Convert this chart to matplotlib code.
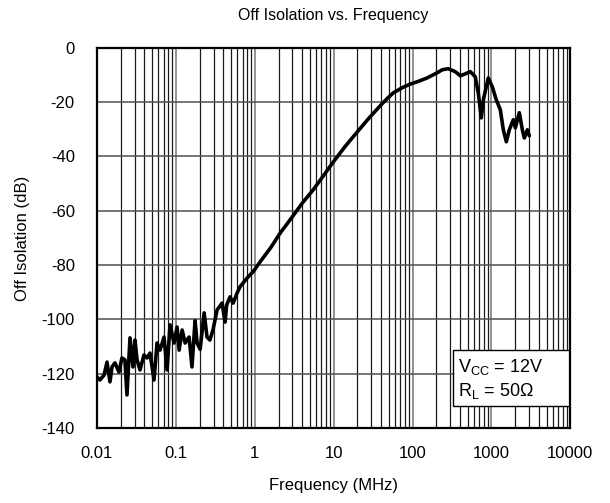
import numpy as np
import matplotlib
matplotlib.use("Agg")
import matplotlib.pyplot as plt
from matplotlib.patches import Rectangle
from matplotlib.ticker import LogLocator, FixedLocator, NullFormatter

plt.rcParams.update({
    "font.family": ["Liberation Sans", "DejaVu Sans"],
    "font.size": 12,
    "mathtext.fontset": "custom",
    "mathtext.rm": "Liberation Sans",
    "mathtext.it": "Liberation Sans:italic",
})

# frequency (MHz) and off isolation (dB)
freq_mhz = [0.0100, 0.0109, 0.0123, 0.0134, 0.0146, 0.0155, 0.0169, 0.0190, 0.0207, 0.0226,
            0.0240, 0.0262, 0.0286, 0.0303, 0.0322, 0.0351, 0.0394, 0.0431, 0.0470, 0.0528,
            0.0577, 0.0630, 0.0708, 0.0773, 0.0843, 0.0948, 0.1035, 0.110, 0.120, 0.131,
            0.147, 0.160, 0.175, 0.186, 0.203, 0.228, 0.248, 0.270, 0.295, 0.333,
            0.385, 0.42, 0.44, 0.486, 0.531, 0.597, 0.65, 0.71, 0.82, 0.95,
            1.17, 1.6, 2.1, 2.98, 4.0, 5.5, 7.5, 9.9, 14, 20,
            28, 39, 48, 57, 75, 93, 120, 153, 205, 238,
            284, 348, 403, 466, 540, 624, 681, 743, 788, 912,
            1025, 1152, 1295, 1414, 1543, 1683, 1892, 2008, 2256, 2463,
            2611, 2850, 3020]
isolation_db = [-121.2, -122.3, -120.5, -115.7, -123.0, -117.5, -116.0, -119.4, -114.2, -114.9,
                -127.8, -106.8, -117.5, -107.6, -114.9, -118.6, -113.1, -114.2, -112.4, -122.3,
                -108.7, -111.3, -106.5, -118.6, -102.0, -108.7, -102.8, -111.3, -103.9, -108.7,
                -106.5, -117.5, -100.5, -108.7, -111.0, -97.6, -106.5, -107.6, -103.9, -96.5,
                -94.0, -101.0, -94.7, -91.7, -94.0, -90.3, -88.0, -86.6, -84.4, -82.5,
                -78.8, -73.5, -68.2, -62.3, -57.2, -52.3, -46.9, -42.0, -36.3, -30.9,
                -25.9, -21.3, -18.6, -16.6, -14.6, -13.4, -12.3, -11.1, -9.2, -8.1,
                -7.7, -8.8, -10.3, -9.6, -8.8, -10.7, -16.6, -25.8, -19.2, -11.1,
                -14.4, -19.2, -22.8, -30.2, -34.6, -30.2, -26.5, -29.5, -23.9, -30.2,
                -33.2, -30.2, -32.4]

x_ticks = [0.01, 0.1, 1, 10, 100, 1000, 10000]
x_ticklabels = ["0.01", "0.1", "1", "10", "100", "1000", "10000"]
y_ticks = [0, -20, -40, -60, -80, -100, -120, -140]

fig = plt.figure(figsize=(6.10, 5.03), dpi=100)
ax = fig.add_axes([0.159, 0.149, 0.776, 0.756])

ax.plot(freq_mhz, isolation_db, color="black", lw=2.6, zorder=4,
        solid_joinstyle="round", solid_capstyle="round")

ax.set_xscale("log")
ax.set_xlim(0.01, 10000)
ax.set_ylim(-140, 0)
ax.set_xticks(x_ticks)
ax.set_xticklabels(x_ticklabels)
ax.xaxis.set_minor_locator(LogLocator(base=10, subs=np.arange(2, 10)))
ax.xaxis.set_minor_formatter(NullFormatter())
ax.yaxis.set_major_locator(FixedLocator(y_ticks))
ax.set_yticklabels([str(v) for v in y_ticks])
ax.tick_params(which="both", length=0)
ax.tick_params(axis="x", pad=13)
ax.tick_params(axis="y", pad=16)

ax.grid(True, which="major", axis="x", color="#8a8a8a", lw=1.3, zorder=1)
ax.grid(True, which="minor", axis="x", color="#1a1a1a", lw=0.9, zorder=1)
ax.grid(True, which="major", axis="y", color="#505050", lw=1.1, zorder=1)
ax.set_axisbelow(True)

for s in ax.spines.values():
    s.set_linewidth(1.6)
    s.set_color("black")
    s.set_zorder(5)

ax.set_title("Off Isolation vs. Frequency", fontsize=11.5, pad=20)
ax.set_xlabel("Frequency (MHz)", fontsize=12, labelpad=12)
ax.set_ylabel("Off Isolation (dB)", fontsize=12, labelpad=8)

ax.add_patch(Rectangle((0.752, 0.058), 0.248, 0.147, transform=ax.transAxes,
                       facecolor="white", edgecolor="black", lw=1.0, zorder=3))
ax.text(0.762, 0.16, r"V$_{\mathrm{CC}}$ = 12V", transform=ax.transAxes,
        fontsize=13, va="center", ha="left", zorder=6)
ax.text(0.762, 0.097, r"R$_{\mathrm{L}}$ = 50Ω", transform=ax.transAxes,
        fontsize=13, va="center", ha="left", zorder=6)

fig.savefig("out.png", dpi=100)
